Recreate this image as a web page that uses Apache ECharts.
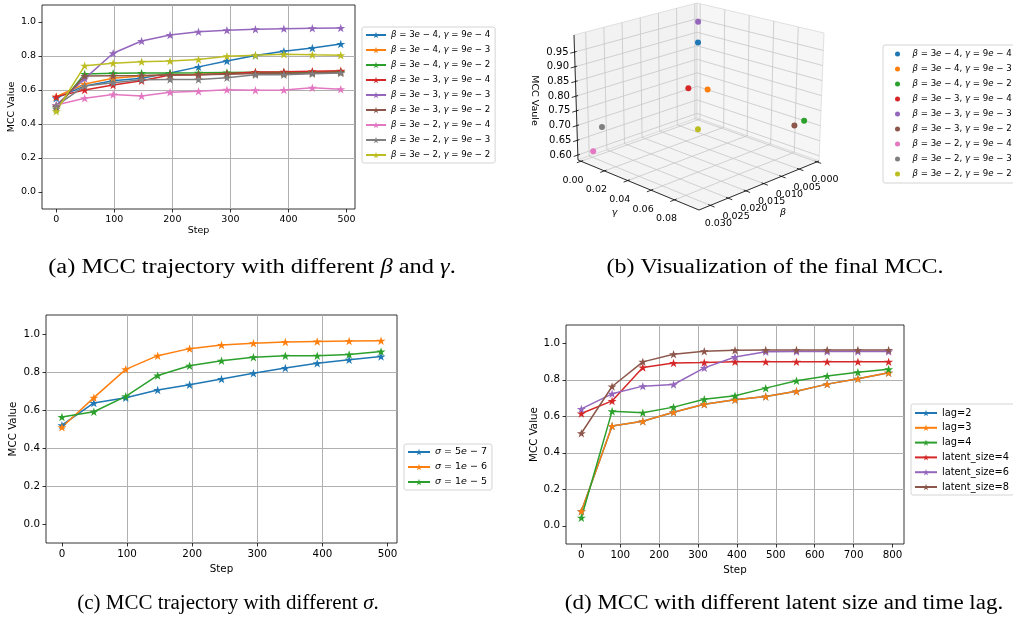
<!DOCTYPE html>
<html><head><meta charset="utf-8">
<script src="https://cdn.jsdelivr.net/npm/echarts@6/dist/echarts.min.js"></script>
<style>html,body{margin:0;padding:0;background:#fff}#c{width:1013px;height:619px}</style>
</head><body><div id="c"></div><script>
// ---------------- data ----------------
const stepsAC = [0, 49, 98, 147, 196, 245, 294, 343, 392, 441, 490];
const stepsD = [0, 79, 158, 237, 316, 395, 474, 553, 632, 711, 790];
const xTicksAC = [0, 100, 200, 300, 400, 500];
const xTicksD = [0, 100, 200, 300, 400, 500, 600, 700, 800];
const yTicks = [0, 0.2, 0.4, 0.6, 0.8, 1.0];

const namesA = ['β = 3e − 4, γ = 9e − 4', 'β = 3e − 4, γ = 9e − 3', 'β = 3e − 4, γ = 9e − 2',
  'β = 3e − 3, γ = 9e − 4', 'β = 3e − 3, γ = 9e − 3', 'β = 3e − 3, γ = 9e − 2',
  'β = 3e − 2, γ = 9e − 4', 'β = 3e − 2, γ = 9e − 3', 'β = 3e − 2, γ = 9e − 2'];
const betaVals = [3e-4, 3e-4, 3e-4, 3e-3, 3e-3, 3e-3, 3e-2, 3e-2, 3e-2];
const gammaVals = [9e-4, 9e-3, 9e-2, 9e-4, 9e-3, 9e-2, 9e-4, 9e-3, 9e-2];
const mcc_b3e4_g9e4 = [0.552, 0.624, 0.655, 0.669, 0.700, 0.736, 0.771, 0.803, 0.828, 0.847, 0.870];
const mcc_b3e4_g9e3 = [0.560, 0.635, 0.669, 0.683, 0.690, 0.692, 0.695, 0.700, 0.702, 0.705, 0.708];
const mcc_b3e4_g9e2 = [0.490, 0.694, 0.698, 0.700, 0.700, 0.701, 0.703, 0.704, 0.705, 0.705, 0.707];
const mcc_b3e3_g9e4 = [0.561, 0.600, 0.629, 0.655, 0.688, 0.690, 0.695, 0.706, 0.708, 0.711, 0.713];
const mcc_b3e3_g9e3 = [0.510, 0.667, 0.816, 0.888, 0.923, 0.943, 0.951, 0.957, 0.961, 0.963, 0.965];
const mcc_b3e3_g9e2 = [0.500, 0.682, 0.684, 0.685, 0.688, 0.689, 0.692, 0.697, 0.697, 0.700, 0.703];
const mcc_b3e2_g9e4 = [0.512, 0.551, 0.574, 0.565, 0.587, 0.592, 0.601, 0.599, 0.600, 0.613, 0.605];
const mcc_b3e2_g9e3 = [0.507, 0.624, 0.643, 0.660, 0.662, 0.662, 0.672, 0.690, 0.690, 0.696, 0.700];
const mcc_b3e2_g9e2 = [0.475, 0.742, 0.757, 0.766, 0.771, 0.780, 0.799, 0.805, 0.810, 0.807, 0.805];

const betaTicks = [0.000, 0.005, 0.010, 0.015, 0.020, 0.025, 0.030];
const gammaTicks = [0.00, 0.02, 0.04, 0.06, 0.08];
const zTicks = [0.60, 0.65, 0.70, 0.75, 0.80, 0.85, 0.90, 0.95];

const namesC = ['σ = 5e − 7', 'σ = 1e − 6', 'σ = 1e − 5'];
const mcc_sig5e7 = [0.520, 0.637, 0.664, 0.705, 0.733, 0.763, 0.793, 0.821, 0.846, 0.865, 0.881];
const mcc_sig1e6 = [0.509, 0.665, 0.814, 0.886, 0.923, 0.942, 0.951, 0.958, 0.961, 0.963, 0.965];
const mcc_sig1e5 = [0.563, 0.591, 0.672, 0.782, 0.833, 0.859, 0.878, 0.885, 0.885, 0.892, 0.908];

const namesD = ['lag=2', 'lag=3', 'lag=4', 'latent_size=4', 'latent_size=6', 'latent_size=8'];
const mcc_lag2 = [0.080, 0.546, 0.573, 0.622, 0.666, 0.690, 0.708, 0.737, 0.776, 0.805, 0.838];
const mcc_lag3 = [0.080, 0.546, 0.573, 0.622, 0.666, 0.690, 0.708, 0.737, 0.776, 0.805, 0.838];
const mcc_lag4 = [0.044, 0.628, 0.619, 0.650, 0.693, 0.712, 0.754, 0.794, 0.820, 0.841, 0.858];
const mcc_ls4 = [0.615, 0.684, 0.867, 0.892, 0.894, 0.898, 0.898, 0.898, 0.898, 0.898, 0.898];
const mcc_ls6 = [0.640, 0.723, 0.765, 0.774, 0.865, 0.925, 0.954, 0.955, 0.955, 0.955, 0.955];
const mcc_ls8 = [0.507, 0.763, 0.898, 0.940, 0.956, 0.962, 0.963, 0.963, 0.963, 0.963, 0.963];

// ---------------- styling / layout ----------------
const C = ['#1f77b4', '#ff7f0e', '#2ca02c', '#d62728', '#9467bd', '#8c564b', '#e377c2', '#7f7f7f', '#bcbd22'];
const STAR = 'path://M50,2 L61.2,36.2 L97.6,36.2 L68.2,57.4 L79.4,91.6 L50,70.6 L20.6,91.6 L31.8,57.4 L2.4,36.2 L38.8,36.2 Z';
const FONT = 'DejaVu Sans';

// 3D box projection (trilinear between screen corners of the box)
const B3 = { bMin: -0.0006, bMax: 0.0332, gMin: -0.0026, gMax: 0.101, zMin: 0.583, zMax: 1.008 };
const K = { // [u(beta), v(gamma), w(z)]
  '000': [697, 118], '100': [578, 160], '010': [819, 161], '110': [699, 210],
  '001': [697, 3], '101': [574, 35], '011': [824, 33], '111': [700, 72]
};
function proj(b, g, z) {
  const u = (b - B3.bMin) / (B3.bMax - B3.bMin);
  const v = (g - B3.gMin) / (B3.gMax - B3.gMin);
  const w = (z - B3.zMin) / (B3.zMax - B3.zMin);
  const out = [0, 0];
  for (const key in K) {
    const wu = key[0] === '1' ? u : 1 - u;
    const wv = key[1] === '1' ? v : 1 - v;
    const ww = key[2] === '1' ? w : 1 - w;
    out[0] += K[key][0] * wu * wv * ww;
    out[1] += K[key][1] * wu * wv * ww;
  }
  return out;
}

const mathRich = s => s.replace(/\u200b/g, '').replace(/([βγσe])/g, '{i|$1}');

function frameItem(params, api) {
  const P = (b, g, z) => api.coord(proj(b, g, z));
  const { bMin, bMax, gMin, gMax, zMin, zMax } = B3;
  const ch = [];
  const poly = (pts, fill) => ch.push({ type: 'polygon', silent: true, shape: { points: pts }, style: { fill: fill, stroke: '#d9d9d9', lineWidth: 0.8 } });
  const seg = (p, q, stroke, w) => ch.push({ type: 'line', silent: true, shape: { x1: p[0], y1: p[1], x2: q[0], y2: q[1] }, style: { stroke: stroke, lineWidth: w } });
  const txt = (p, dx, dy, text, align, rot, size) => ch.push({ type: 'text', silent: true, x: p[0] + dx, y: p[1] + dy, rotation: rot || 0,
    style: { text: text, fontSize: size || 9.5, fontFamily: FONT, fill: '#000', align: align || 'center', verticalAlign: 'middle',
      rich: { i: { fontStyle: 'italic', fontSize: size || 9.5, fontFamily: FONT, fill: '#000' } } } });
  // panes
  poly([P(bMin, gMin, zMin), P(bMax, gMin, zMin), P(bMax, gMin, zMax), P(bMin, gMin, zMax)], '#f2f2f2');
  poly([P(bMin, gMin, zMin), P(bMin, gMax, zMin), P(bMin, gMax, zMax), P(bMin, gMin, zMax)], '#f6f6f6');
  poly([P(bMin, gMin, zMin), P(bMax, gMin, zMin), P(bMax, gMax, zMin), P(bMin, gMax, zMin)], '#f4f4f4');
  const GC = '#c6c6c6', GW = 0.8;
  betaTicks.forEach(b => { seg(P(b, gMin, zMin), P(b, gMin, zMax), GC, GW); seg(P(b, gMin, zMin), P(b, gMax, zMin), GC, GW); });
  gammaTicks.forEach(g => { seg(P(bMin, g, zMin), P(bMin, g, zMax), GC, GW); seg(P(bMin, g, zMin), P(bMax, g, zMin), GC, GW); });
  zTicks.forEach(z => { seg(P(bMin, gMin, z), P(bMax, gMin, z), GC, GW); seg(P(bMin, gMin, z), P(bMin, gMax, z), GC, GW); });
  // axis lines
  seg(P(bMax, gMin, zMin), P(bMax, gMax, zMin), '#000', 0.8);
  seg(P(bMin, gMax, zMin), P(bMax, gMax, zMin), '#000', 0.8);
  seg(P(bMax, gMin, zMin), P(bMax, gMin, zMax), '#000', 0.8);
  const db = (bMax - bMin) * 0.035, dg = (gMax - gMin) * 0.035;
  gammaTicks.forEach(g => { seg(P(bMax - db * 0.5, g, zMin), P(bMax + db, g, zMin), '#000', 0.8); txt(P(bMax, g, zMin), -8, 19, g.toFixed(2)); });
  betaTicks.forEach(b => { seg(P(b, gMax - dg * 0.5, zMin), P(b, gMax + dg, zMin), '#000', 0.8); txt(P(b, gMax, zMin), 8, 18, b.toFixed(3)); });
  zTicks.forEach(z => { seg(P(bMax - db * 0.5, gMin, z), P(bMax + db, gMin, z), '#000', 0.8); txt(P(bMax, gMin, z), -6, 0, z.toFixed(2), 'right', 0, 10); });
  txt(P(bMax, (gMin + gMax) / 2, zMin), -24, 28, '{i|γ}');
  txt(P((bMin + bMax) / 2, gMax, zMin), 24, 27, '{i|β}');
  txt(P(bMax, gMin, (zMin + zMax) / 2), -42, 3, 'MCC Vaule', 'center', -Math.PI / 2);
  return { type: 'group', children: ch };
}

// ---------------- axes helpers ----------------
function mkGrid(l, t, w, h) {
  return { left: l, top: t, width: w, height: h, show: true, borderColor: '#000', borderWidth: 0.8, containLabel: false, outerBoundsMode: 'none' };
}
function mkX(gi, min, max, split, ticks, fs, gap) {
  return { gridIndex: gi, type: 'value', min: min, max: max, splitNumber: split,
    name: 'Step', nameLocation: 'middle', nameGap: gap, nameTextStyle: { fontSize: fs, color: '#000', fontFamily: FONT },
    axisLine: { show: false, onZero: false },
    axisTick: { show: true, length: 3.5, customValues: ticks, lineStyle: { color: '#000', width: 0.8 } },
    axisLabel: { customValues: ticks, fontSize: fs, color: '#000', fontFamily: FONT, margin: 6, showMinLabel: true, showMaxLabel: true },
    splitLine: { show: true, showMinLine: false, showMaxLine: false, lineStyle: { color: '#b0b0b0', width: 1 } } };
}
function mkY(gi, fs, gap) {
  return { gridIndex: gi, type: 'value', min: -0.1, max: 1.1, splitNumber: 5,
    name: 'MCC Value', nameLocation: 'middle', nameGap: gap, nameTextStyle: { fontSize: fs, color: '#000', fontFamily: FONT },
    axisLine: { show: false, onZero: false },
    axisTick: { show: true, length: 3.5, customValues: yTicks, lineStyle: { color: '#000', width: 0.8 } },
    axisLabel: { customValues: yTicks, fontSize: fs, color: '#000', fontFamily: FONT, margin: 6, formatter: v => v.toFixed(1) },
    splitLine: { show: true, showMinLine: false, showMaxLine: false, lineStyle: { color: '#b0b0b0', width: 1 } } };
}
const pairs = (xs, ys) => xs.map((x, i) => [x, ys[i]]);
function lineSeries(name, gi, xs, ys, color) {
  return { type: 'line', name: name, xAxisIndex: gi, yAxisIndex: gi, data: pairs(xs, ys),
    symbol: STAR, symbolSize: 9, symbolKeepAspect: true, showSymbol: true, color: color,
    itemStyle: { color: color }, lineStyle: { width: 1.5, color: color }, animation: false, silent: true };
}

const series = [];
const aData = [mcc_b3e4_g9e4, mcc_b3e4_g9e3, mcc_b3e4_g9e2, mcc_b3e3_g9e4, mcc_b3e3_g9e3, mcc_b3e3_g9e2, mcc_b3e2_g9e4, mcc_b3e2_g9e3, mcc_b3e2_g9e2];
aData.forEach((ys, i) => series.push(lineSeries(namesA[i], 0, stepsAC, ys, C[i])));
[mcc_sig5e7, mcc_sig1e6, mcc_sig1e5].forEach((ys, i) => series.push(lineSeries(namesC[i], 1, stepsAC, ys, C[i])));
[mcc_lag2, mcc_lag3, mcc_lag4, mcc_ls4, mcc_ls6, mcc_ls8].forEach((ys, i) => series.push(lineSeries(namesD[i], 2, stepsD, ys, C[i])));

// panel (b): 3D frame + final MCC points
series.push({ type: 'custom', xAxisIndex: 3, yAxisIndex: 3, data: [[0, 0]], renderItem: frameItem, clip: false, z: 1, silent: true, animation: false });
const namesB = namesA.map(n => n + '\u200b');
aData.forEach((ys, i) => series.push({ type: 'scatter', name: namesB[i], xAxisIndex: 3, yAxisIndex: 3, z: 3,
  data: [proj(betaVals[i], gammaVals[i], ys[ys.length - 1])], symbol: 'circle', symbolSize: 6,
  itemStyle: { color: C[i], opacity: 1 }, color: C[i], animation: false, silent: true }));

function mkLegend(data, left, top, pad, iw, ih, gap, fs, extra) {
  return Object.assign({ data: data, orient: 'vertical', left: left, top: top, padding: pad, itemWidth: iw, itemHeight: ih, itemGap: gap,
    selectedMode: false, backgroundColor: 'rgba(255,255,255,0.8)', borderColor: '#d4d4d4', borderWidth: 1, borderRadius: 2,
    textStyle: { fontSize: fs, lineHeight: 10, color: '#000', fontFamily: FONT,
      rich: { i: { fontStyle: 'italic', fontSize: fs, lineHeight: 10, fontFamily: FONT, color: '#000' } } } }, extra || {});
}

const capRich = { i: { fontStyle: 'italic', fontSize: 20, fontFamily: 'Liberation Serif', fill: '#000' } };
const cap = (x, y, sx, text) => ({ type: 'text', x: x, y: y, scaleX: sx, silent: true,
  style: { text: text, fontSize: 20, fontFamily: 'Liberation Serif', fill: '#000', align: 'center', verticalAlign: 'middle', rich: capRich } });

const option = {
  animation: false,
  textStyle: { fontFamily: FONT },
  grid: [mkGrid(42, 5, 313, 204), mkGrid(46, 315, 351, 228), mkGrid(566, 325, 338, 219),
    { left: 0, top: 0, width: 1013, height: 619, show: false, containLabel: false, outerBoundsMode: 'none' }],
  xAxis: [mkX(0, -24.5, 514.5, 5, xTicksAC, 9.5, 17), mkX(1, -24.5, 514.5, 5, xTicksAC, 10.3, 21), mkX(2, -39.5, 829.5, 8, xTicksD, 10.3, 21),
    { gridIndex: 3, type: 'value', min: 0, max: 1013, show: false }],
  yAxis: [mkY(0, 9.5, 25), mkY(1, 10.3, 28), mkY(2, 10.3, 27),
    { gridIndex: 3, type: 'value', min: 0, max: 619, inverse: true, show: false }],
  legend: [
    mkLegend(namesA, 362, 27, [3, 5, 3, 3], 20, 8, 5, 8.6, { formatter: mathRich }),
    mkLegend(namesB, 883, 45, [4, 5, 4, 12], 20, 5, 5, 8.6, { formatter: mathRich, icon: 'circle' }),
    mkLegend(namesC, 404, 444, [3, 5, 3, 3], 22, 8, 5, 9.5, { formatter: mathRich }),
    mkLegend(namesD, 911, 404, [4, 5, 3, 3], 22, 8, 4.8, 9.8)
  ],
  series: series,
  graphic: { elements: [
    cap(252, 268, 1.22, '(a) MCC trajectory with different {i|β} and {i|γ}.'),
    cap(775, 268, 1.2, '(b) Visualization of the final MCC.'),
    cap(228, 604, 1.05, '(c) MCC trajectory with different {i|σ}.'),
    cap(784, 604, 1.15, '(d) MCC with different latent size and time lag.')
  ] }
};
const chart = echarts.init(document.getElementById('c'), null, { renderer: 'canvas' });
chart.setOption(option);
</script></body></html>
